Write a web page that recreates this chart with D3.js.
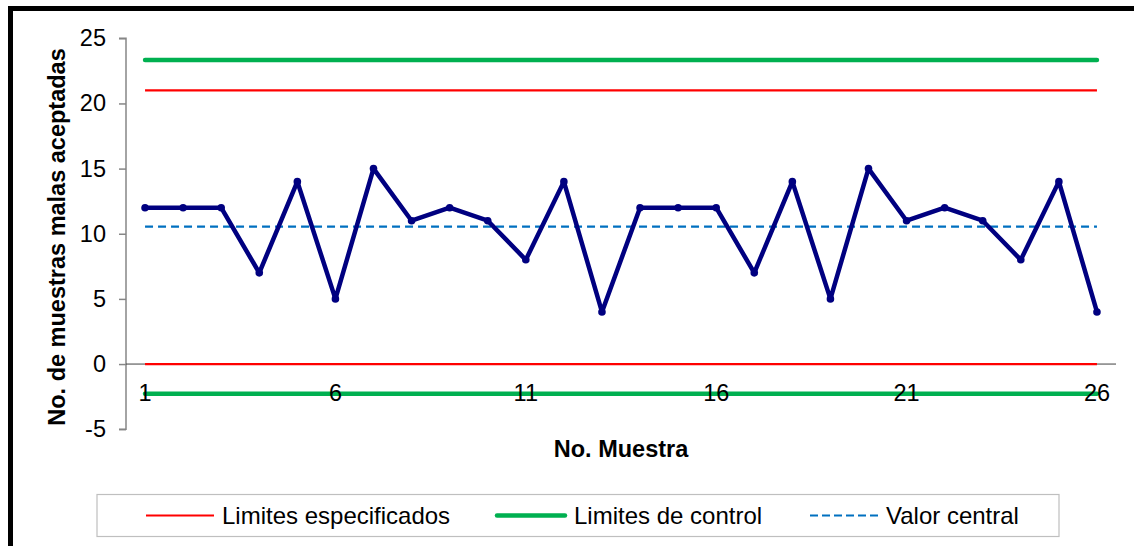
<!DOCTYPE html>
<html><head><meta charset="utf-8">
<script src="https://cdn.jsdelivr.net/npm/d3@7"></script>
<style>body{margin:0;background:#fff}svg{display:block;font-family:"Liberation Sans",Arial,sans-serif}</style>
</head><body><svg id="c" width="1134" height="546"></svg>
<script>
const categories = d3.range(1, 27);
const values = [12,12,12,7,14,5,15,11,12,11,8,14,4,12,12,12,7,14,5,15,11,12,11,8,14,4];
const specLimits = [21, 0];
const controlLimits = [23.33, -2.27];
const centerValue = 10.54;
const yTicks = [-5, 0, 5, 10, 15, 20, 25];
const xTicks = [1, 6, 11, 16, 21, 26];
const legendItems = ["Limites especificados", "Limites de control", "Valor central"];

const svg = d3.select("#c");
svg.append("rect").attr("x",10.5).attr("y",8.5).attr("width",1200).attr("height",600)
  .attr("fill","none").attr("stroke","#000").attr("stroke-width",5);

const x = d3.scaleBand().domain(categories).range([126, 1116]);
const cx = d => x(d) + x.bandwidth()/2;
const y = d3.scaleLinear().domain([-5, 25]).range([429.2, 38.3]);
const fmt = d => String(d);

// y axis
const ya = svg.append("g").attr("transform","translate(126,0)")
  .call(d3.axisLeft(y).tickValues(yTicks).tickSize(7).tickPadding(13).tickFormat(fmt));
ya.select(".domain").attr("stroke","#868686").attr("stroke-width",1.5).attr("d","M-7,"+y(-5)+"H0V"+y(25)+"H-7");
ya.selectAll(".tick line").attr("stroke","#868686").attr("stroke-width",1.5);
ya.selectAll(".tick text").attr("font-size",23.5).attr("fill","#000").style("font-family","Liberation Sans, Arial, sans-serif");

// x axis line at zero (below series)
const xa = svg.append("g").attr("transform","translate(0,"+y(0)+")")
  .call(d3.axisBottom(x).tickValues([]).tickSize(0));
xa.select(".domain").attr("stroke","#404040").attr("stroke-width",1).attr("d","M126,0H1116");

const x0 = cx(categories[0]), x1 = cx(categories[categories.length-1]);
function hline(v, color, w, dash){
  const l = svg.append("line").attr("x1",x0).attr("x2",x1).attr("y1",y(v)).attr("y2",y(v))
    .attr("stroke",color).attr("stroke-width",w);
  if (dash) l.attr("stroke-dasharray",dash);
  return l;
}
specLimits.forEach(v => hline(v, "#FF0000", 2.2));
controlLimits.forEach(v => hline(v, "#00B050", 4.5).attr("stroke-linecap","round"));
hline(centerValue, "#0070C0", 2.2, "8,5");

// x tick labels above the green line
const xl = svg.append("g").attr("transform","translate(0,"+y(0)+")")
  .call(d3.axisBottom(x).tickValues(xTicks).tickSize(0).tickPadding(0).tickFormat(fmt));
xl.select(".domain").remove();
xl.selectAll(".tick text").attr("font-size",23.5).attr("fill","#000").attr("dy",null).attr("y",37)
  .style("font-family","Liberation Sans, Arial, sans-serif");

// data line
const line = d3.line().x((d,i)=>cx(categories[i])).y(d=>y(d));
svg.append("path").datum(values).attr("d",line).attr("fill","none")
  .attr("stroke","#000080").attr("stroke-width",4.5).attr("stroke-linejoin","round");
svg.selectAll(".pt").data(values).join("circle").attr("class","pt")
  .attr("cx",(d,i)=>cx(categories[i])).attr("cy",d=>y(d)).attr("r",3.8).attr("fill","#000080");

// titles
svg.append("text").attr("x",621).attr("y",457).attr("text-anchor","middle")
  .attr("font-size",23.5).attr("font-weight","bold").text("No. Muestra");
svg.append("text").attr("transform","translate(65,237) rotate(-90)").attr("text-anchor","middle")
  .attr("font-size",23.5).attr("font-weight","bold").text("No. de muestras malas aceptadas");

// legend
svg.append("rect").attr("x",97).attr("y",494.5).attr("width",962).attr("height",42)
  .attr("fill","#fff").attr("stroke","#BFBFBF").attr("stroke-width",1.2);
const lg = [
  {x:146, color:"#FF0000", w:2.2, dash:null, tx:222},
  {x:497, color:"#00B050", w:4.5, dash:null, tx:574},
  {x:810, color:"#0070C0", w:2.2, dash:"8,4", tx:886}
];
lg.forEach((o,i)=>{
  const l = svg.append("line").attr("x1",o.x).attr("x2",o.x+68).attr("y1",515.5).attr("y2",515.5)
    .attr("stroke",o.color).attr("stroke-width",o.w);
  if (o.dash) l.attr("stroke-dasharray",o.dash);
  if (i===1) l.attr("stroke-linecap","round");
  svg.append("text").attr("x",o.tx).attr("y",524).attr("font-size",24).attr("fill","#000").text(legendItems[i]);
});
</script></body></html>
